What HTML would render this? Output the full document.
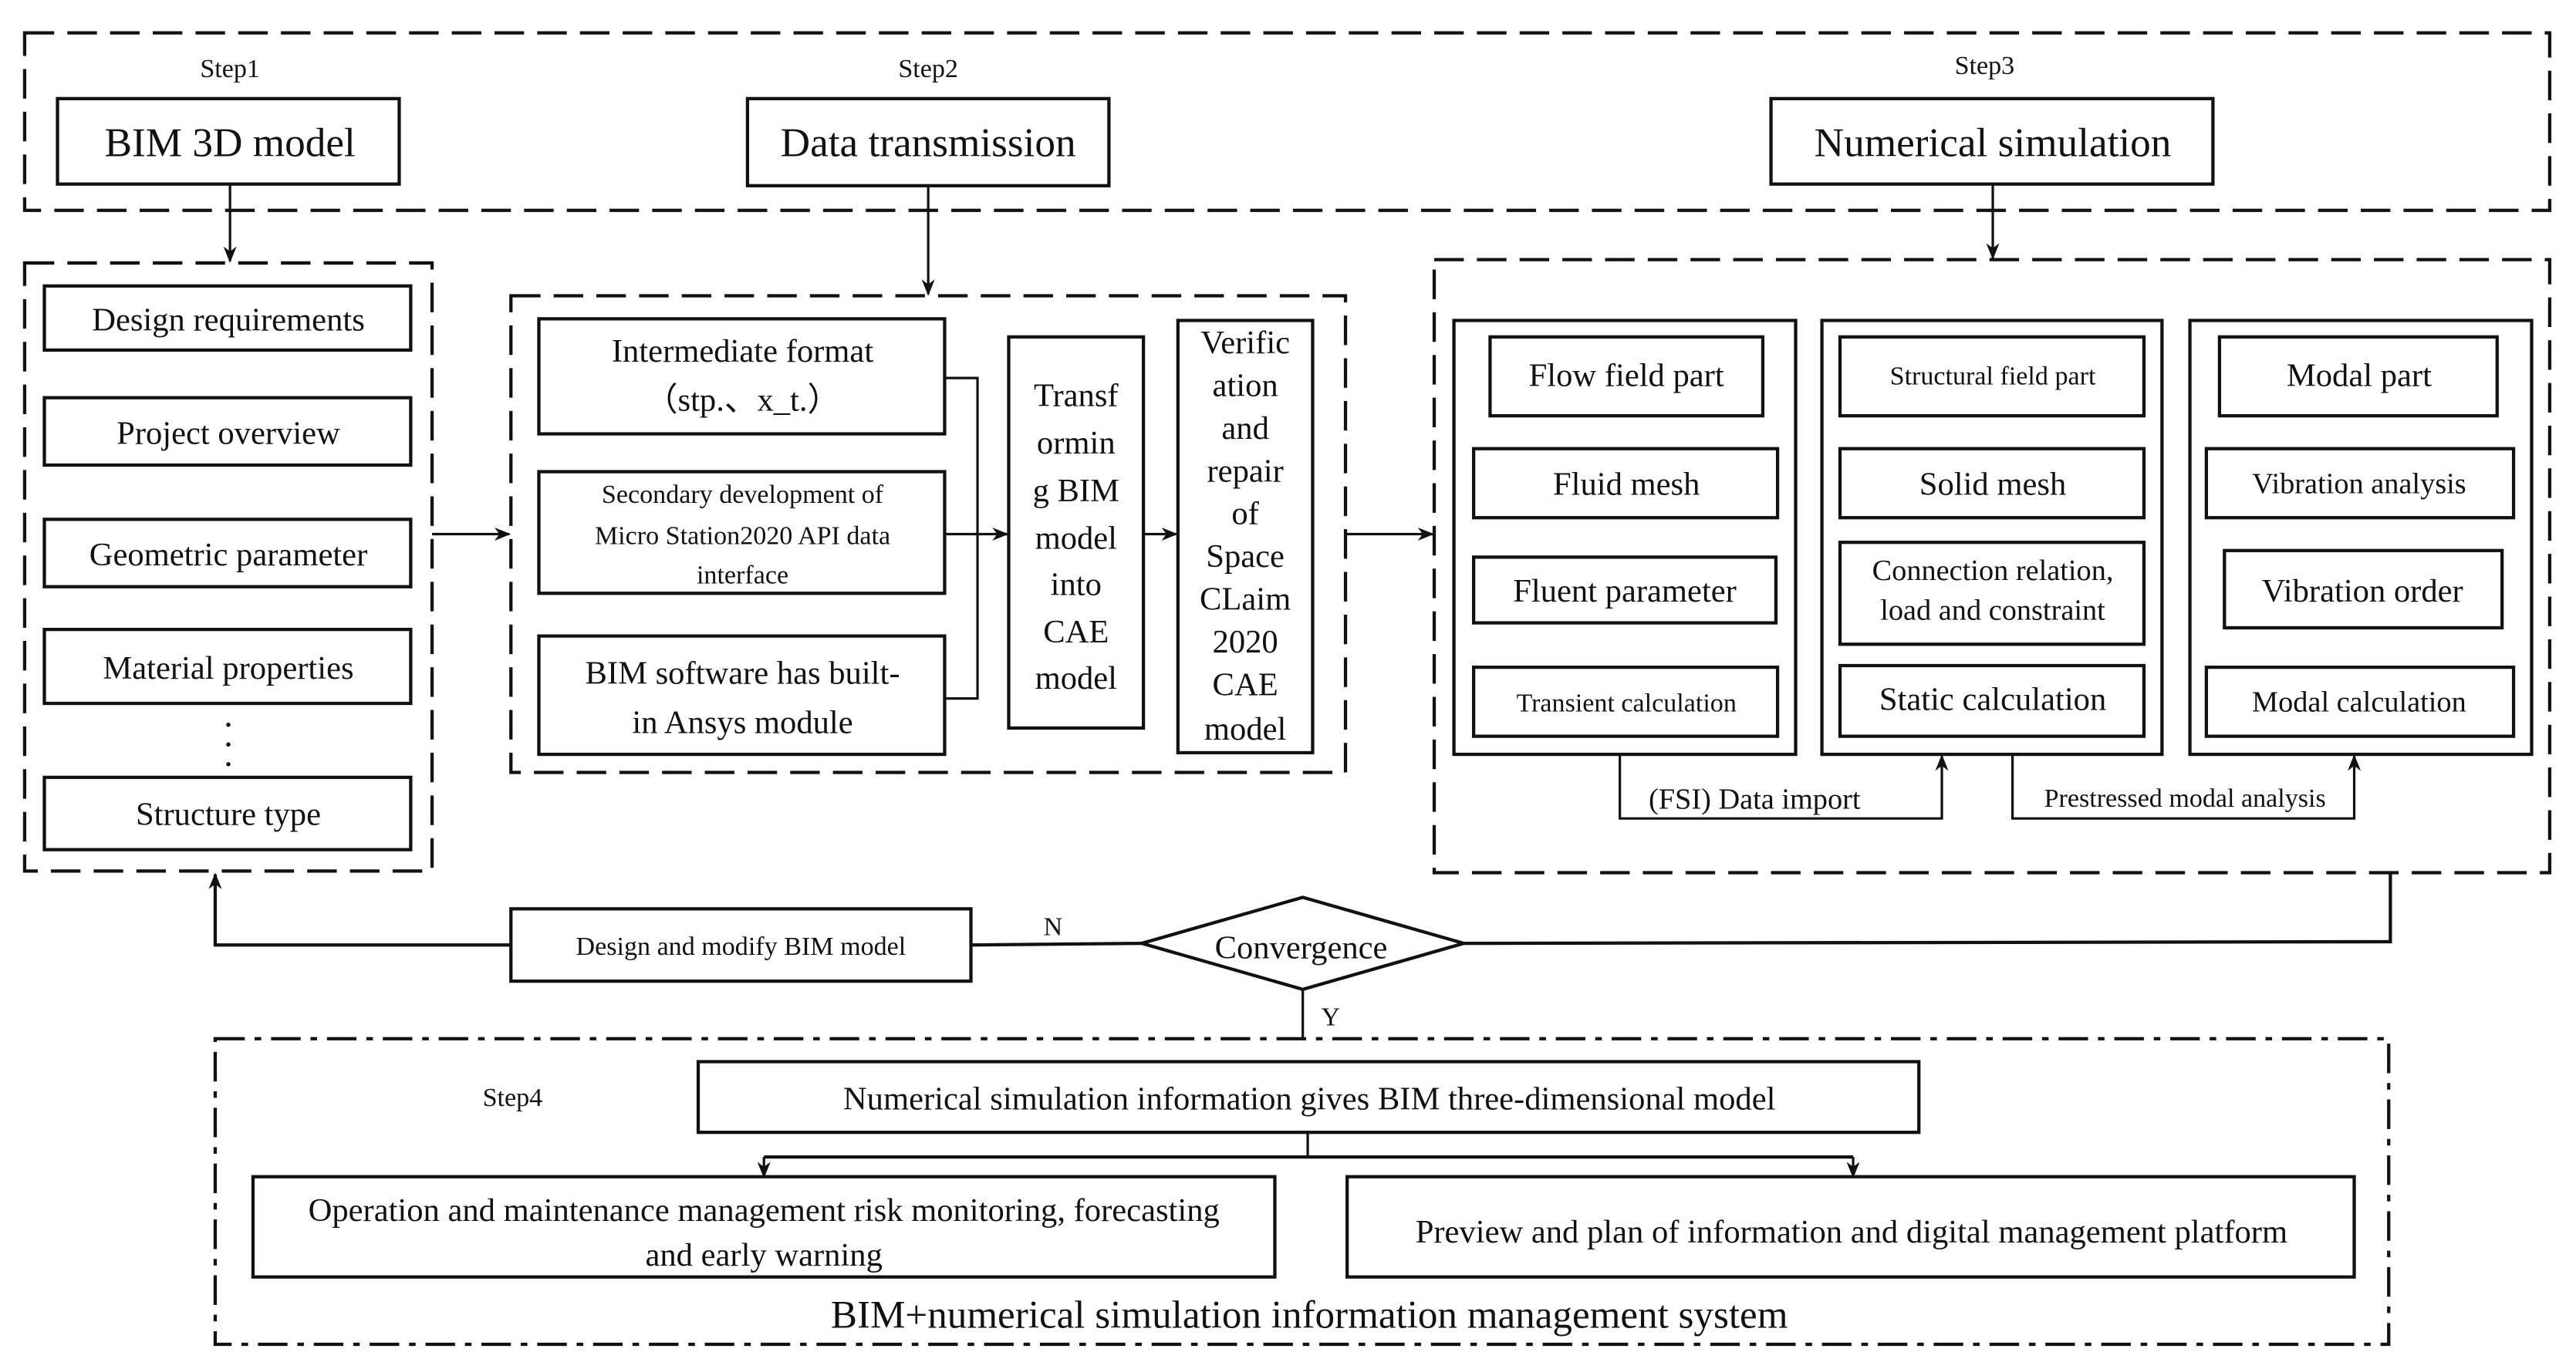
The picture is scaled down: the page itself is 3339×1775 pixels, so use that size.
<!DOCTYPE html>
<html><head><meta charset="utf-8"><style>
html,body{margin:0;padding:0;background:#fff;}
svg{display:block;}
svg text{font-family:"Liberation Serif","Times New Roman",Times,serif;fill:#111;text-anchor:middle;}
</style></head><body>
<svg width="3339" height="1775" viewBox="0 0 1568 833" preserveAspectRatio="none" xmlns="http://www.w3.org/2000/svg">
<defs>
<marker id="ar" markerWidth="10" markerHeight="10" refX="9" refY="5" orient="auto" markerUnits="userSpaceOnUse">
<path d="M0,1 L10,5 L0,9 L3,5 Z" fill="#111"/></marker>
</defs>
<g fill="none" stroke="#111" stroke-width="2" stroke-dasharray="18,8">
<rect x="15" y="20" width="1537" height="108"/>
<rect x="15" y="160" width="248" height="370"/>
<rect x="311" y="180" width="508" height="290"/>
<rect x="873" y="158" width="679" height="373"/>
</g>
<rect x="131" y="632" width="1323" height="186" fill="none" stroke="#111" stroke-width="2" stroke-dasharray="18,6,4,6"/>
<g fill="none" stroke="#111" stroke-width="2">
<rect x="35" y="60" width="208" height="52"/>
<rect x="455" y="60" width="220" height="53"/>
<rect x="1078" y="60" width="269" height="52"/>
<rect x="27" y="174" width="223" height="39"/>
<rect x="27" y="242" width="223" height="41"/>
<rect x="27" y="316" width="223" height="41"/>
<rect x="27" y="383" width="223" height="45"/>
<rect x="27" y="473" width="223" height="44"/>
<rect x="328" y="194" width="247" height="70"/>
<rect x="328" y="287" width="247" height="74"/>
<rect x="328" y="387" width="247" height="72"/>
<rect x="614" y="205" width="82" height="238"/>
<rect x="717" y="195" width="82" height="263"/>
<rect x="885" y="195" width="208" height="264"/>
<rect x="1109" y="195" width="207" height="264"/>
<rect x="1333" y="195" width="208" height="264"/>
<rect x="907" y="205" width="166" height="48"/>
<rect x="897" y="273" width="185" height="42"/>
<rect x="897" y="339" width="184" height="40"/>
<rect x="897" y="406" width="185" height="42"/>
<rect x="1120" y="205" width="185" height="48"/>
<rect x="1120" y="273" width="185" height="42"/>
<rect x="1120" y="330" width="185" height="62"/>
<rect x="1120" y="405" width="185" height="43"/>
<rect x="1351" y="205" width="169" height="48"/>
<rect x="1343" y="273" width="187" height="42"/>
<rect x="1354" y="335" width="169" height="47"/>
<rect x="1343" y="406" width="187" height="42"/>
<rect x="311" y="553" width="280" height="44"/>
<polygon points="695,574 793,546 891,574 793,602"/>
<rect x="425" y="646" width="743" height="43"/>
<rect x="154" y="716" width="622" height="61"/>
<rect x="820" y="716" width="613" height="61"/>
</g>
<g fill="none" stroke="#111" stroke-width="1.5">
<line x1="140" y1="112" x2="140" y2="159" marker-end="url(#ar)"/>
<line x1="565" y1="113" x2="565" y2="179" marker-end="url(#ar)"/>
<line x1="1213" y1="112" x2="1213" y2="157" marker-end="url(#ar)"/>
<line x1="263" y1="325" x2="310" y2="325" marker-end="url(#ar)"/>
<polyline points="575,230 595,230 595,425 575,425"/>
<line x1="575" y1="325" x2="613" y2="325" marker-end="url(#ar)"/>
<line x1="696" y1="325" x2="716" y2="325" marker-end="url(#ar)"/>
<line x1="819" y1="325" x2="872" y2="325" marker-end="url(#ar)"/>
<polyline points="986,459 986,498 1182,498 1182,460" marker-end="url(#ar)"/>
<polyline points="1225,459 1225,498 1433,498 1433,460" marker-end="url(#ar)"/>
<polyline points="1455,531 1455,573 891,574" stroke-width="2"/>
<line x1="695" y1="574" x2="591" y2="575" stroke-width="2"/>
<polyline points="311,575 131,575 131,532" stroke-width="2" marker-end="url(#ar)"/>
<line x1="793" y1="602" x2="793" y2="632"/>
<line x1="796" y1="689" x2="796" y2="704"/>
<line x1="465" y1="704" x2="1128" y2="704" stroke-width="2"/>
<line x1="465" y1="704" x2="465" y2="716" marker-end="url(#ar)"/>
<line x1="1128" y1="704" x2="1128" y2="716" marker-end="url(#ar)"/>
</g>
<g fill="#111">
<circle cx="139" cy="441" r="1.3"/><circle cx="139" cy="453" r="1.3"/><circle cx="139" cy="465" r="1.3"/>
</g>
<g font-family="Liberation Serif, serif" text-anchor="middle" fill="#111">
<g font-size="16">
<text x="140" y="47">Step1</text>
<text x="565" y="47">Step2</text>
<text x="1208" y="45">Step3</text>
<text x="312" y="673">Step4</text>
</g>
<g font-size="25">
<text x="140" y="95">BIM 3D model</text>
<text x="565" y="95">Data transmission</text>
<text x="1213" y="95">Numerical simulation</text>
</g>
<g font-size="20">
<text x="139" y="201">Design requirements</text>
<text x="139" y="270">Project overview</text>
<text x="139" y="344">Geometric parameter</text>
<text x="139" y="413">Material properties</text>
<text x="139" y="502">Structure type</text>
<text x="452" y="220">Intermediate format</text>
<text x="452" y="250">（stp.、x_t.）</text>
<text x="452" y="416">BIM software has built-</text>
<text x="452" y="446">in Ansys module</text>
<text x="655" y="247">Transf</text>
<text x="655" y="276">ormin</text>
<text x="655" y="305">g BIM</text>
<text x="655" y="334">model</text>
<text x="655" y="362">into</text>
<text x="655" y="391">CAE</text>
<text x="655" y="419">model</text>
<text x="758" y="215">Verific</text>
<text x="758" y="241">ation</text>
<text x="758" y="267">and</text>
<text x="758" y="293">repair</text>
<text x="758" y="319">of</text>
<text x="758" y="345">Space</text>
<text x="758" y="371">CLaim</text>
<text x="758" y="397">2020</text>
<text x="758" y="423">CAE</text>
<text x="758" y="450">model</text>
<text x="990" y="235">Flow field part</text>
<text x="990" y="301">Fluid mesh</text>
<text x="989" y="366">Fluent parameter</text>
<text x="1213" y="301">Solid mesh</text>
<text x="1213" y="432">Static calculation</text>
<text x="1436" y="235">Modal part</text>
<text x="1438" y="366">Vibration order</text>
<text x="792" y="583">Convergence</text>
<text x="797" y="675">Numerical simulation information gives BIM three-dimensional model</text>
<text x="1127" y="756">Preview and plan of information and digital management platform</text>
<text x="465" y="743">Operation and maintenance management risk monitoring, forecasting</text>
<text x="465" y="770">and early warning</text>
</g>
<g font-size="18">
<text x="1436" y="300">Vibration analysis</text>
<text x="1436" y="433">Modal calculation</text>
<text x="1213" y="353">Connection relation,</text>
<text x="1213" y="377">load and constraint</text>
<text x="1068" y="492">(FSI) Data import</text>
</g>
<g font-size="16">
<text x="452" y="306">Secondary development of</text>
<text x="452" y="331">Micro Station2020 API data</text>
<text x="452" y="355">interface</text>
<text x="990" y="433">Transient calculation</text>
<text x="1213" y="234">Structural field part</text>
<text x="1330" y="491">Prestressed modal analysis</text>
<text x="451" y="581">Design and modify BIM model</text>
<text x="641" y="569">N</text>
<text x="810" y="624">Y</text>
</g>
<text x="797" y="808" font-size="24">BIM+numerical simulation information management system</text>
</g>
</svg>
</body></html>
